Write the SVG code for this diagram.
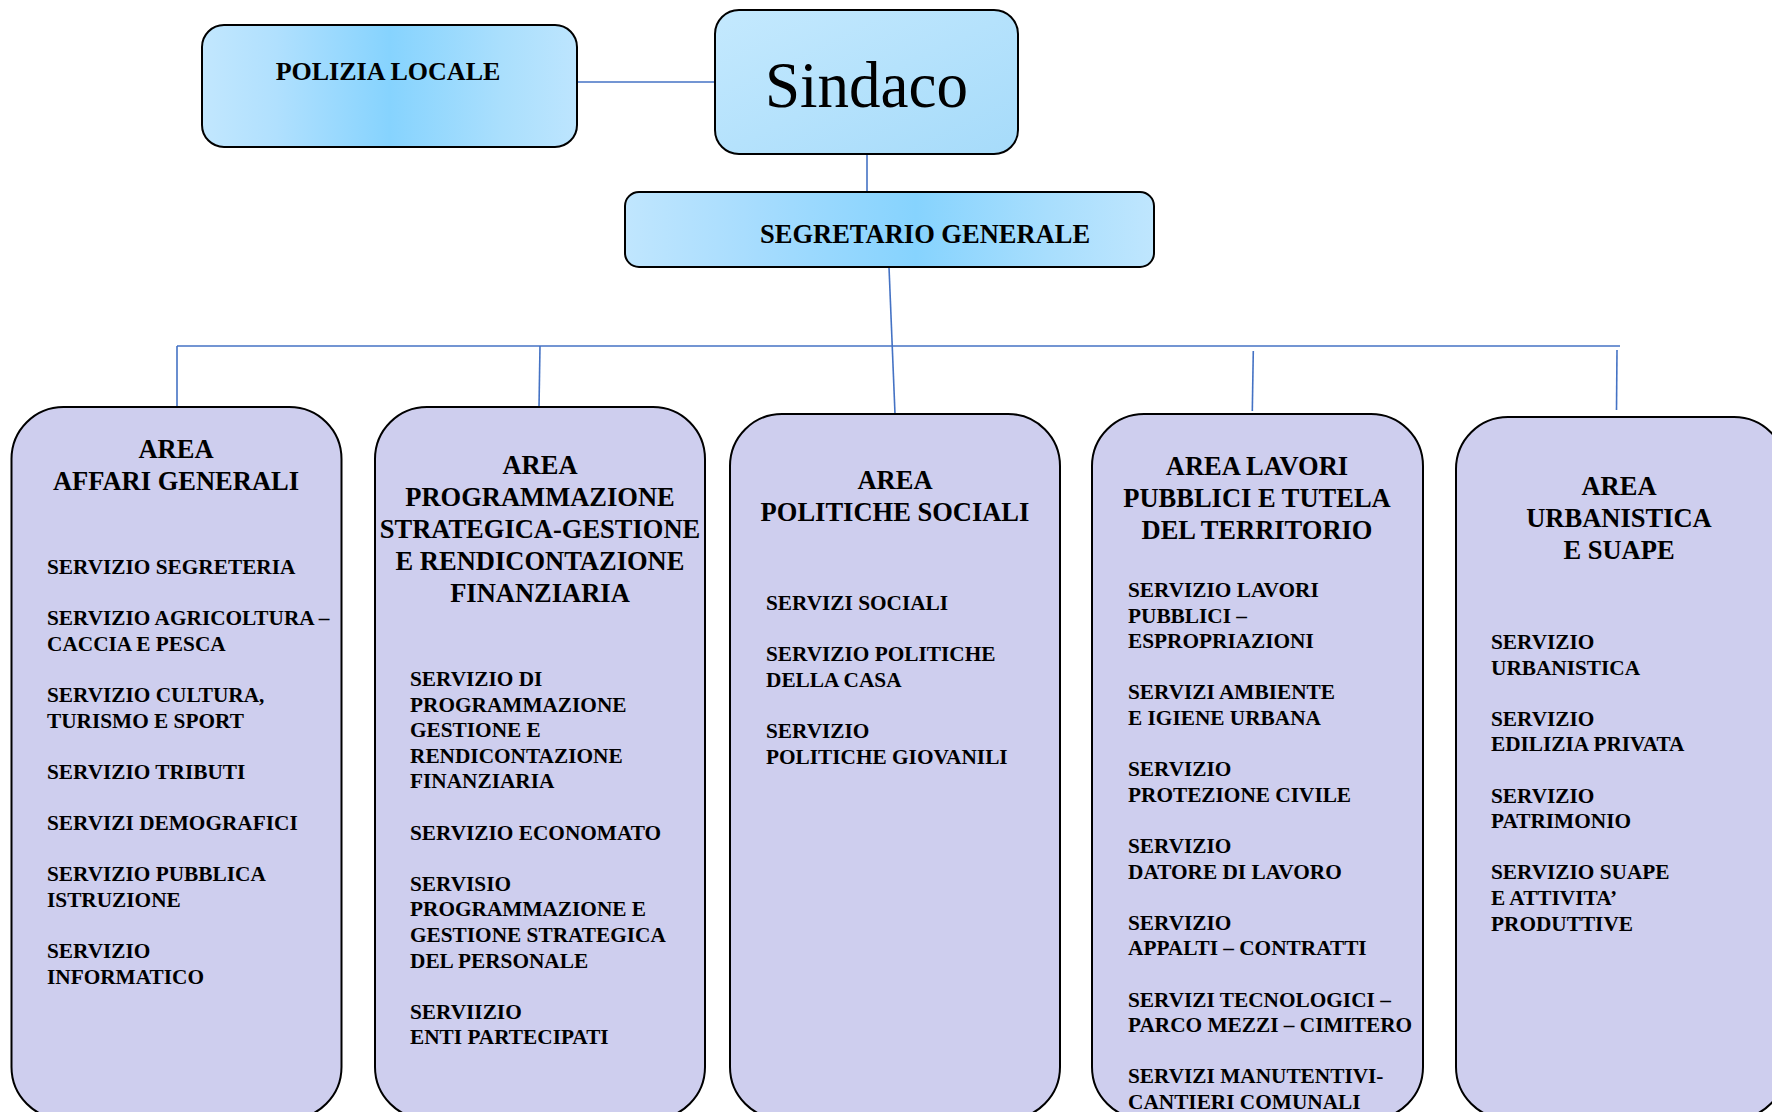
<svg xmlns="http://www.w3.org/2000/svg" width="1772" height="1112" viewBox="0 0 1772 1112">
<defs>
<linearGradient id="gPol" x1="0" y1="0" x2="1" y2="0">
<stop offset="0" stop-color="#C2E7FE"/><stop offset="0.2" stop-color="#B0E0FE"/><stop offset="0.5" stop-color="#86D3FE"/><stop offset="0.8" stop-color="#AADFFD"/><stop offset="1" stop-color="#BDE5FE"/>
</linearGradient>
<linearGradient id="gSeg" x1="0" y1="0" x2="1" y2="0">
<stop offset="0" stop-color="#C0E6FE"/><stop offset="0.25" stop-color="#A6DCFE"/><stop offset="0.55" stop-color="#86D3FE"/><stop offset="0.8" stop-color="#A8DEFD"/><stop offset="1" stop-color="#BFE6FE"/>
</linearGradient>
<linearGradient id="gSin" x1="0" y1="0" x2="1" y2="1">
<stop offset="0" stop-color="#C4E9FE"/><stop offset="1" stop-color="#A6DBFA"/>
</linearGradient>
<style>
.top{stroke:#000;stroke-width:2}
.area{fill:#CECEEE;stroke:#000;stroke-width:2}
.con{stroke:#4472C4;stroke-width:1.6;fill:none}
text{font-family:"Liberation Serif","Times New Roman",serif;fill:#000}
.b{font-weight:bold}
.h{font-weight:bold;font-size:26.5px;text-anchor:middle}
.s{font-weight:bold;font-size:21.3px}
</style>
</defs>
<g id="connectors">
<line class="con" x1="577" y1="82" x2="715" y2="82"/>
<line class="con" x1="867" y1="154" x2="867" y2="192"/>
<line class="con" x1="889" y1="267" x2="895" y2="414"/>
<line class="con" x1="177" y1="346" x2="1620" y2="346"/>
<line class="con" x1="177" y1="346" x2="177" y2="407"/>
<line class="con" x1="540" y1="346" x2="539" y2="407"/>
<line class="con" x1="1253.3" y1="351" x2="1252.3" y2="411"/>
<line class="con" x1="1617" y1="350" x2="1616.5" y2="410"/>
</g>
<g id="polizia">
<rect class="top" x="202" y="25" width="375" height="122" rx="22" fill="url(#gPol)"/>
<text class="b" x="388" y="80" font-size="26" text-anchor="middle">POLIZIA LOCALE</text>
</g>
<g id="sindaco">
<rect class="top" x="715" y="10" width="303" height="144" rx="24" fill="url(#gSin)"/>
<text x="765" y="107" font-size="66" textLength="203" lengthAdjust="spacingAndGlyphs">Sindaco</text>
</g>
<g id="segretario">
<rect class="top" x="625" y="192" width="529" height="75" rx="14" fill="url(#gSeg)"/>
<text class="b" x="760" y="243" font-size="26.5">SEGRETARIO GENERALE</text>
</g>
<g id="area-affari-generali">
<rect class="area" x="11.5" y="407" width="330" height="712" rx="52"/>
<text class="h" x="176" y="458">AREA</text>
<text class="h" x="176" y="490">AFFARI GENERALI</text>
<text class="s" x="47">
<tspan x="47" y="574">SERVIZIO SEGRETERIA</tspan>
<tspan x="47" y="625.2">SERVIZIO AGRICOLTURA –</tspan>
<tspan x="47" y="650.8">CACCIA E PESCA</tspan>
<tspan x="47" y="702">SERVIZIO CULTURA,</tspan>
<tspan x="47" y="727.6">TURISMO E SPORT</tspan>
<tspan x="47" y="778.8">SERVIZIO TRIBUTI</tspan>
<tspan x="47" y="830">SERVIZI DEMOGRAFICI</tspan>
<tspan x="47" y="881.2">SERVIZIO PUBBLICA</tspan>
<tspan x="47" y="906.8">ISTRUZIONE</tspan>
<tspan x="47" y="958">SERVIZIO</tspan>
<tspan x="47" y="983.6">INFORMATICO</tspan>
</text>
</g>
<g id="area-programmazione">
<rect class="area" x="375" y="407" width="330" height="712" rx="52"/>
<text class="h" x="540" y="474">AREA</text>
<text class="h" x="540" y="506">PROGRAMMAZIONE</text>
<text class="h" x="540" y="538">STRATEGICA-GESTIONE</text>
<text class="h" x="540" y="570">E RENDICONTAZIONE</text>
<text class="h" x="540" y="602">FINANZIARIA</text>
<text class="s">
<tspan x="410" y="686">SERVIZIO DI</tspan>
<tspan x="410" y="711.6">PROGRAMMAZIONE</tspan>
<tspan x="410" y="737.2">GESTIONE E</tspan>
<tspan x="410" y="762.8">RENDICONTAZIONE</tspan>
<tspan x="410" y="788.4">FINANZIARIA</tspan>
<tspan x="410" y="839.6">SERVIZIO ECONOMATO</tspan>
<tspan x="410" y="890.8">SERVISIO</tspan>
<tspan x="410" y="916.4">PROGRAMMAZIONE E</tspan>
<tspan x="410" y="942">GESTIONE STRATEGICA</tspan>
<tspan x="410" y="967.6">DEL PERSONALE</tspan>
<tspan x="410" y="1018.8">SERVIIZIO</tspan>
<tspan x="410" y="1044.4">ENTI PARTECIPATI</tspan>
</text>
</g>
<g id="area-politiche-sociali">
<rect class="area" x="730" y="414" width="330" height="705" rx="52"/>
<text class="h" x="895" y="489">AREA</text>
<text class="h" x="895" y="521">POLITICHE SOCIALI</text>
<text class="s">
<tspan x="766" y="610">SERVIZI SOCIALI</tspan>
<tspan x="766" y="661.2">SERVIZIO POLITICHE</tspan>
<tspan x="766" y="686.8">DELLA CASA</tspan>
<tspan x="766" y="738">SERVIZIO</tspan>
<tspan x="766" y="763.6">POLITICHE GIOVANILI</tspan>
</text>
</g>
<g id="area-lavori-pubblici">
<rect class="area" x="1092" y="414" width="331" height="705" rx="52"/>
<text class="h" x="1257" y="475">AREA LAVORI</text>
<text class="h" x="1257" y="507">PUBBLICI E TUTELA</text>
<text class="h" x="1257" y="539">DEL TERRITORIO</text>
<text class="s">
<tspan x="1128" y="597">SERVIZIO LAVORI</tspan>
<tspan x="1128" y="622.6">PUBBLICI –</tspan>
<tspan x="1128" y="648.2">ESPROPRIAZIONI</tspan>
<tspan x="1128" y="699.4">SERVIZI AMBIENTE</tspan>
<tspan x="1128" y="725">E IGIENE URBANA</tspan>
<tspan x="1128" y="776.2">SERVIZIO</tspan>
<tspan x="1128" y="801.8">PROTEZIONE CIVILE</tspan>
<tspan x="1128" y="853">SERVIZIO</tspan>
<tspan x="1128" y="878.6">DATORE DI LAVORO</tspan>
<tspan x="1128" y="929.8">SERVIZIO</tspan>
<tspan x="1128" y="955.4">APPALTI – CONTRATTI</tspan>
<tspan x="1128" y="1006.6">SERVIZI TECNOLOGICI –</tspan>
<tspan x="1128" y="1032.2">PARCO MEZZI – CIMITERO</tspan>
<tspan x="1128" y="1083.4">SERVIZI MANUTENTIVI-</tspan>
<tspan x="1128" y="1109">CANTIERI COMUNALI</tspan>
</text>
</g>
<g id="area-urbanistica">
<rect class="area" x="1456" y="417" width="330" height="702" rx="52"/>
<text class="h" x="1619" y="495">AREA</text>
<text class="h" x="1619" y="527">URBANISTICA</text>
<text class="h" x="1619" y="559">E SUAPE</text>
<text class="s">
<tspan x="1491" y="649">SERVIZIO</tspan>
<tspan x="1491" y="674.6">URBANISTICA</tspan>
<tspan x="1491" y="725.8">SERVIZIO</tspan>
<tspan x="1491" y="751.4">EDILIZIA PRIVATA</tspan>
<tspan x="1491" y="802.6">SERVIZIO</tspan>
<tspan x="1491" y="828.2">PATRIMONIO</tspan>
<tspan x="1491" y="879.4">SERVIZIO SUAPE</tspan>
<tspan x="1491" y="905">E ATTIVITA’</tspan>
<tspan x="1491" y="930.6">PRODUTTIVE</tspan>
</text>
</g>
</svg>
